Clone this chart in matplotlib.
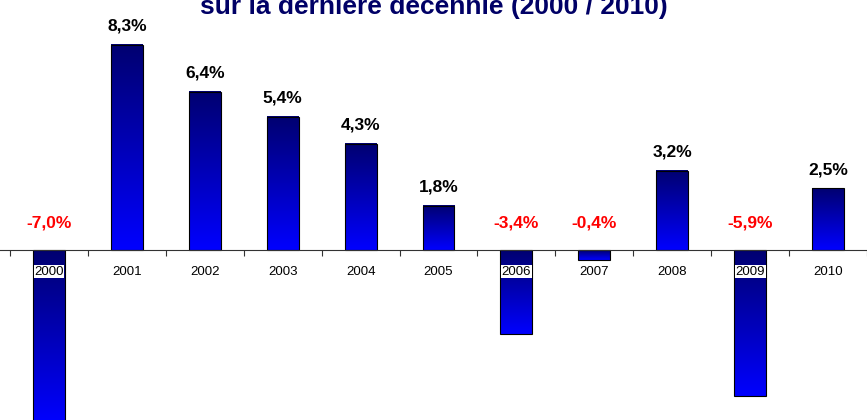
import numpy as np
import matplotlib.pyplot as plt
from matplotlib import font_manager
from matplotlib.colors import LinearSegmentedColormap

plt.rcParams['font.family'] = ['Liberation Sans', 'DejaVu Sans']

# data
years = ['2000', '2001', '2002', '2003', '2004', '2005',
         '2006', '2007', '2008', '2009', '2010']
growth = [-7.0, 8.3, 6.4, 5.4, 4.3, 1.8, -3.4, -0.4, 3.2, -5.9, 2.5]
title = 'sur la dernière décennie (2000 / 2010)'

names = {f.name for f in font_manager.fontManager.ttflist}
if 'Liberation Sans Narrow' in names:
    lab_font, lab_size = ['Liberation Sans Narrow', 'DejaVu Sans'], 14
else:
    lab_font, lab_size = ['Liberation Sans', 'DejaVu Sans'], 12.5

fig = plt.figure(figsize=(8.67, 4.2), dpi=100)
ax = fig.add_axes([0, 0, 1, 1])
ax.set_xlim(-0.628, 10.445)
ax.set_ylim(-6.88, 10.12)

grad_cmap = LinearSegmentedColormap.from_list('bars', ['#000070', '#0000ff'])
grad = np.linspace(0, 1, 256).reshape(-1, 1)
width = 0.41

for i, v in enumerate(growth):
    lo, hi = min(0, v), max(0, v)
    ax.imshow(grad, cmap=grad_cmap, aspect='auto', origin='upper',
              extent=[i - width / 2, i + width / 2, lo, hi], zorder=2)
    ax.bar(i, v, width=width, facecolor='none', edgecolor='black',
           linewidth=0.8, zorder=3)
    lab = f'{v:.1f}%'.replace('.', ',')
    if v >= 0:
        ax.annotate(lab, (i, v), xytext=(0, 8), textcoords='offset points',
                    ha='center', va='bottom', fontsize=lab_size,
                    fontweight='bold', color='black', family=lab_font)
    else:
        ax.annotate(lab, (i, 0), xytext=(0, 14), textcoords='offset points',
                    ha='center', va='bottom', fontsize=lab_size,
                    fontweight='bold', color='#ff0000', family=lab_font)
    ax.annotate(years[i], (i, 0), xytext=(0, -15.5), textcoords='offset points',
                ha='center', va='center', fontsize=9.5, color='black', zorder=5,
                bbox=dict(boxstyle='square,pad=0.05', facecolor='white',
                          edgecolor='none'))

# axis line at zero with ticks between categories
for s in ['top', 'right', 'left']:
    ax.spines[s].set_visible(False)
ax.spines['bottom'].set_position(('data', 0))
ax.spines['bottom'].set_color('#333333')
ax.spines['bottom'].set_zorder(4)
ax.set_xticks(np.arange(len(years) + 1) - 0.5)
ax.set_xticklabels([])
ax.tick_params(axis='x', direction='out', length=4, color='#333333')
ax.set_yticks([])

fig.text(0.5, 1 - 14 / 420, title, ha='center', va='baseline',
         fontsize=19, fontweight='bold', color='#000066')

fig.savefig('out.png', dpi=100)
